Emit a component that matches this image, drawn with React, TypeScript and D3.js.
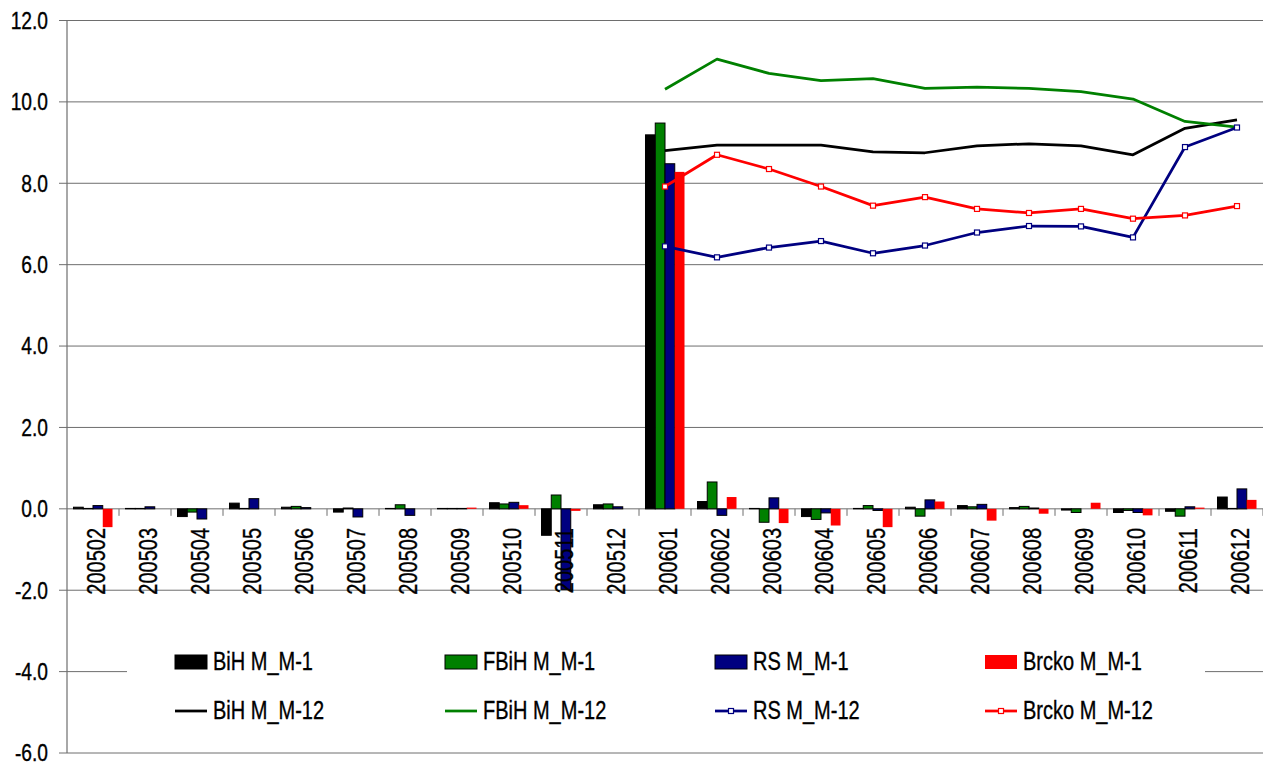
import React from "react";
import * as d3 from "d3";

const categories = ["200502","200503","200504","200505","200506","200507","200508","200509","200510","200511","200512","200601","200602","200603","200604","200605","200606","200607","200608","200609","200610","200611","200612"];

const bihM1 = [0.04,0.01,-0.19,0.14,0.04,-0.08,0.01,0.01,0.15,-0.65,0.10,9.19,0.18,0.01,-0.19,0.01,0.04,0.08,0.03,-0.03,-0.09,-0.06,0.29];
const fbihM1 = [0.01,0.01,-0.08,0.01,0.06,0.02,0.10,0.01,0.12,0.34,0.12,9.48,0.66,-0.33,-0.26,0.08,-0.18,0.05,0.06,-0.09,-0.04,-0.18,0.01];
const rsM1 = [0.08,0.05,-0.25,0.25,0.03,-0.20,-0.16,0.01,0.16,-1.98,0.05,8.48,-0.16,0.27,-0.10,-0.04,0.22,0.11,0.02,0.0,-0.09,0.05,0.49];
const brckoM1 = [-0.45,0.0,0.0,0.0,0.0,0.0,0.0,0.03,0.09,-0.05,0.0,8.28,0.29,-0.35,-0.41,-0.45,0.18,-0.29,-0.12,0.15,-0.16,0.03,0.22];

const N = null;
const bihM12 = [N,N,N,N,N,N,N,N,N,N,N,8.80,8.94,8.94,8.94,8.77,8.75,8.92,8.97,8.92,8.70,9.35,9.56];
const fbihM12 = [N,N,N,N,N,N,N,N,N,N,N,10.31,11.05,10.70,10.52,10.57,10.33,10.36,10.33,10.25,10.07,9.52,9.38];
const rsM12 = [N,N,N,N,N,N,N,N,N,N,N,6.45,6.18,6.42,6.58,6.28,6.47,6.79,6.95,6.94,6.67,8.89,9.37];
const brckoM12 = [N,N,N,N,N,N,N,N,N,N,N,7.92,8.70,8.35,7.92,7.45,7.66,7.37,7.27,7.37,7.13,7.21,7.44];

const yTicks = [12, 10, 8, 6, 4, 2, 0, -2, -4, -6];

const barSeries = [
  { name: "BiH M_M-1", values: bihM1, color: "#000000", stroke: "#000000" },
  { name: "FBiH M_M-1", values: fbihM1, color: "#008000", stroke: "#000000" },
  { name: "RS M_M-1", values: rsM1, color: "#000080", stroke: "#000000" },
  { name: "Brcko M_M-1", values: brckoM1, color: "#FF0000", stroke: "none" },
];

const lineSeries = [
  { name: "BiH M_M-12", values: bihM12, color: "#000000", marker: false },
  { name: "FBiH M_M-12", values: fbihM12, color: "#008000", marker: false },
  { name: "RS M_M-12", values: rsM12, color: "#000080", marker: true },
  { name: "Brcko M_M-12", values: brckoM12, color: "#FF0000", marker: true },
];

const W = 1263;
const H = 765;
const left = 67;
const right = 1263;
const top = 20.5;
const bottom = 753;
const FONT = "'Liberation Sans', Arial, sans-serif";
const GRID = "#6e6e6e";
const NARROW = 0.8;

function NText(props: {
  x: number;
  y: number;
  size: number;
  anchor?: string;
  rotate?: number;
  children: React.ReactNode;
}) {
  const { x, y, size, anchor = "start", rotate = 0, children } = props;
  return (
    <text
      transform={`translate(${x},${y}) rotate(${rotate}) scale(${NARROW},1)`}
      textAnchor={anchor}
      dominantBaseline="central"
      fontSize={size}
      fill="#000"
      stroke="#000"
      strokeWidth={0.35}
    >
      {children}
    </text>
  );
}

const fmt = (t: number) => d3.format(".1f")(t).replace("\u2212", "-");

export default function App() {
  const x = d3.scaleBand<string>().domain(categories).range([left, right]).paddingInner(0).paddingOuter(0);
  const y = d3.scaleLinear().domain([-6, 12]).range([bottom, top]);
  const bw = x.bandwidth();
  const groupW = bw / 1.333;
  const sub = d3.scaleBand<number>().domain([0, 1, 2, 3]).range([0, groupW]);
  const y0 = y(0);

  const lineGen = d3
    .line<number | null>()
    .defined((d) => d !== null)
    .x((_, i) => (x(categories[i]) as number) + bw / 2)
    .y((d) => y(d as number));

  const legendCols = [175, 445, 715, 985];
  const legendRows = [662, 711];

  return (
    <svg
      width={W}
      height={H}
      style={{ position: "fixed", left: 0, top: 0, background: "#fff" }}
      fontFamily={FONT}
    >
      <rect x={0} y={0} width={W} height={H} fill="#fff" />
      {yTicks.map((t) => (
        <line key={"g" + t} x1={left - 8} x2={right} y1={y(t)} y2={y(t)} stroke={GRID} strokeWidth={1} />
      ))}
      <line x1={left} x2={left} y1={top} y2={bottom} stroke={GRID} strokeWidth={1.2} />
      {yTicks.map((t) => (
        <NText key={"yl" + t} x={48} y={y(t)} size={24} anchor="end">
          {fmt(t)}
        </NText>
      ))}
      {categories.map((c) => (
        <line key={"xt" + c} x1={(x(c) as number) + bw} x2={(x(c) as number) + bw} y1={y0} y2={y0 + 7} stroke={GRID} strokeWidth={1} />
      ))}
      {barSeries.map((s, si) => (
        <g key={s.name}>
          {s.values.map((v, i) => {
            const bx = (x(categories[i]) as number) + (bw - groupW) / 2 + (sub(si) as number);
            const yt = Math.min(y(v), y0);
            const h = Math.abs(y(v) - y0);
            return (
              <rect
                key={i}
                x={bx}
                y={yt}
                width={sub.bandwidth()}
                height={h}
                fill={s.color}
                stroke={s.stroke}
                strokeWidth={s.stroke === "none" ? 0 : 1}
              />
            );
          })}
        </g>
      ))}
      {categories.map((c) => (
        <NText key={"xl" + c} x={(x(c) as number) + bw / 2 + 3.5} y={528} size={25} anchor="end" rotate={-90}>
          {c}
        </NText>
      ))}
      {lineSeries.map((s) => (
        <g key={s.name}>
          <path d={lineGen(s.values) || ""} fill="none" stroke={s.color} strokeWidth={2.75} strokeLinejoin="round" />
          {s.marker &&
            s.values.map((v, i) =>
              v === null ? null : (
                <rect
                  key={i}
                  x={(x(categories[i]) as number) + bw / 2 - 2.5}
                  y={y(v) - 2.5}
                  width={5}
                  height={5}
                  fill="#fff"
                  stroke={s.color}
                  strokeWidth={1.2}
                />
              )
            )}
        </g>
      ))}
      <rect x={127} y={618} width={1205 - 127} height={126} fill="#fff" />
      {barSeries.map((s, i) => (
        <g key={"lb" + i}>
          <rect
            x={legendCols[i]}
            y={legendRows[0] - 7}
            width={32}
            height={14}
            fill={s.color}
            stroke={s.stroke}
            strokeWidth={s.stroke === "none" ? 0 : 1}
          />
          <NText x={legendCols[i] + 38} y={legendRows[0]} size={25}>
            {s.name}
          </NText>
        </g>
      ))}
      {lineSeries.map((s, i) => (
        <g key={"ll" + i}>
          <line x1={legendCols[i]} x2={legendCols[i] + 32} y1={legendRows[1]} y2={legendRows[1]} stroke={s.color} strokeWidth={2.75} />
          {s.marker && (
            <rect x={legendCols[i] + 13.5} y={legendRows[1] - 2.5} width={5} height={5} fill="#fff" stroke={s.color} strokeWidth={1.2} />
          )}
          <NText x={legendCols[i] + 38} y={legendRows[1]} size={25}>
            {s.name}
          </NText>
        </g>
      ))}
    </svg>
  );
}
